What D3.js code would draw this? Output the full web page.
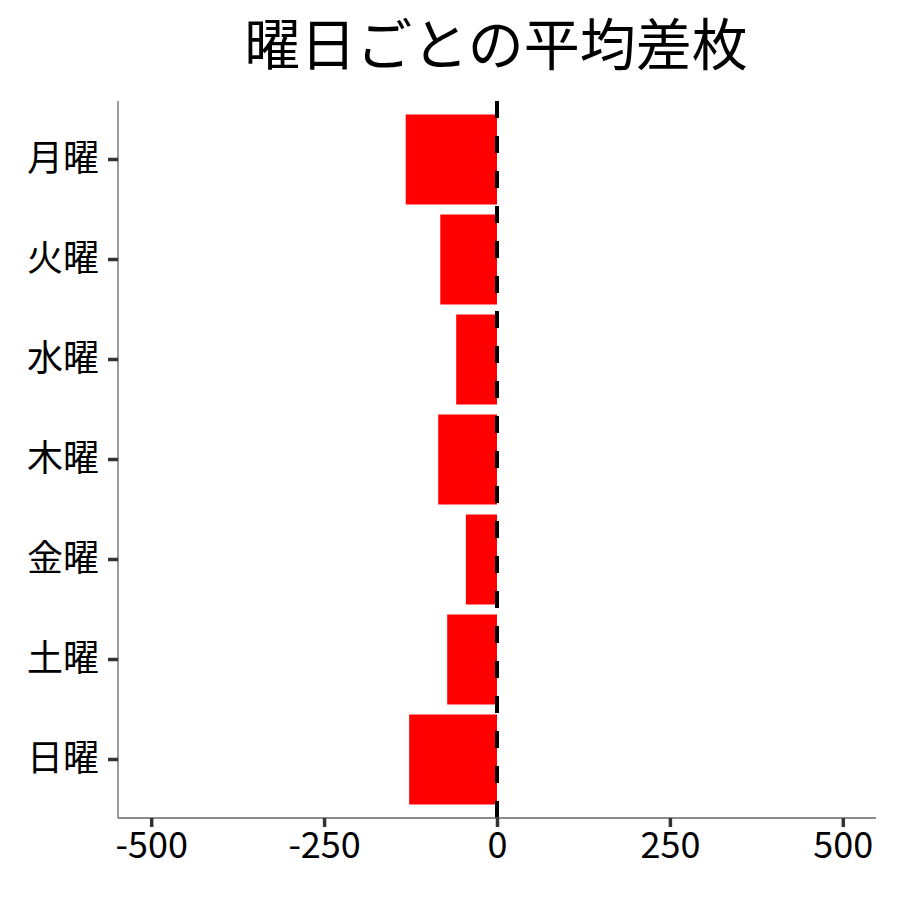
<!DOCTYPE html>
<html>
<head>
<meta charset="utf-8">
<script src="https://cdn.jsdelivr.net/npm/d3@7"></script>
<style>
  body { margin: 0; background: #fff; }
  text { font-family: "Noto Sans CJK JP", "Noto Sans", sans-serif; }
</style>
</head>
<body>
<div id="chart"></div>
<script>
// weekday labels and average difference values
const days = ["月曜", "火曜", "水曜", "木曜", "金曜", "土曜", "日曜"];
const avgDiff = [-132, -82, -59, -85, -45, -72, -127];
const xTicks = [-500, -250, 0, 250, 500];

const data = days.map((d, i) => ({ day: d, value: avgDiff[i] }));

const W = 900, H = 900;
const margin = { top: 101, right: 24, bottom: 82, left: 118 };
const width = W - margin.left - margin.right;
const height = H - margin.top - margin.bottom;

const svg = d3.select("#chart")
    .append("svg")
    .attr("width", W)
    .attr("height", H);

svg.append("text")
    .attr("x", 496)
    .attr("y", 65)
    .attr("text-anchor", "middle")
    .style("font-size", "56px")
    .text("曜日ごとの平均差枚");

const g = svg.append("g")
    .attr("transform", "translate(" + margin.left + "," + margin.top + ")");

const x = d3.scaleLinear()
    .domain([-548, 548])
    .range([0, width]);

// discrete axis padded like ggplot's 0.6 expansion
const y = d3.scaleBand()
    .domain(days)
    .range([0, height])
    .paddingInner(0.1)
    .paddingOuter(0.135);

g.selectAll("rect")
    .data(data)
    .enter()
    .append("rect")
    .attr("x", d => x(Math.min(0, d.value)))
    .attr("y", d => y(d.day))
    .attr("width", d => Math.abs(x(d.value) - x(0)))
    .attr("height", y.bandwidth())
    .attr("fill", "#ff0000");

// zero reference line
g.append("line")
    .attr("x1", x(0)).attr("x2", x(0))
    .attr("y1", height).attr("y2", 0)
    .attr("stroke", "#000")
    .attr("stroke-width", 4)
    .attr("stroke-dasharray", "17,18");

const xAxis = g.append("g")
    .attr("transform", "translate(0," + height + ")")
    .call(d3.axisBottom(x).tickValues(xTicks).tickSize(9).tickPadding(5).tickFormat(d => String(d)));

const yAxis = g.append("g")
    .call(d3.axisLeft(y).tickSize(10).tickPadding(9));

[xAxis, yAxis].forEach(ax => {
    ax.select(".domain").attr("stroke", "#666").attr("stroke-width", 1.3);
    ax.selectAll(".tick line").attr("stroke", "#333").attr("stroke-width", 3.5);
    ax.selectAll(".tick text")
        .attr("fill", "#000")
        .style("font-size", "36px")
        .style("font-family", '"Noto Sans CJK JP", sans-serif');
});
xAxis.select(".domain").attr("d", "M0,0H" + width);
yAxis.select(".domain").attr("d", "M0,0V" + height);
</script>
</body>
</html>
